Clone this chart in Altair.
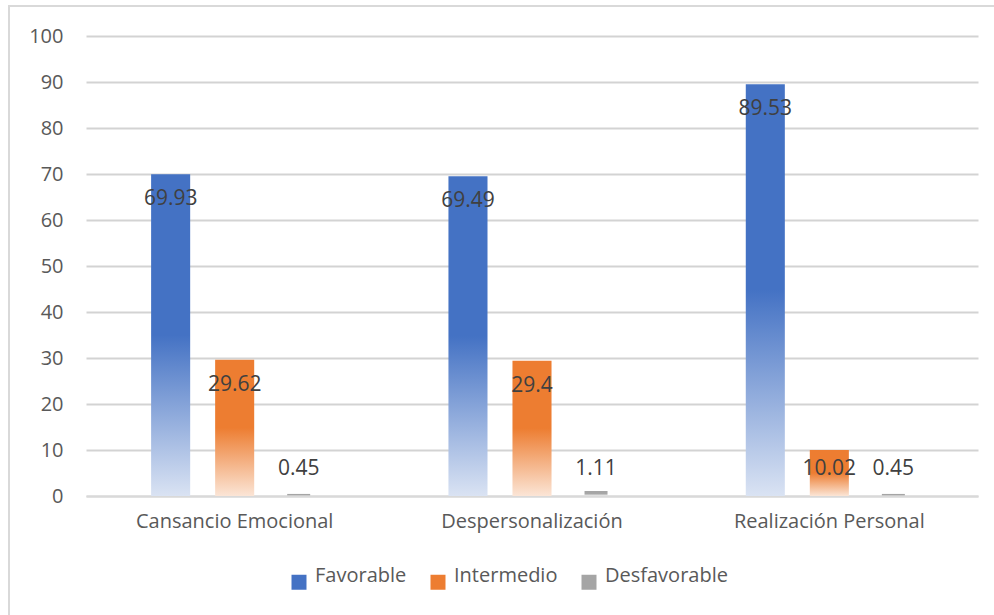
import altair as alt
import pandas as pd

categories = ["Cansancio Emocional", "Despersonalización", "Realización Personal"]
series = ["Favorable", "Intermedio", "Desfavorable"]
favorable = [69.93, 69.49, 89.53]
intermedio = [29.62, 29.4, 10.02]
desfavorable = [0.45, 1.11, 0.45]
solid_colors = ["#4472C4", "#ED7D31", "#A5A5A5"]
light_colors = ["#DAE3F3", "#FBE5D6", "#EDEDED"]
y_ticks = list(range(0, 101, 10))

rows = []
for s, vals in zip(series, [favorable, intermedio, desfavorable]):
    for c, v in zip(categories, vals):
        rows.append({"category": c, "series": s, "value": v,
                     "label": str(v), "anchor": max(v, 11.3)})
df = pd.DataFrame(rows)

FONT = "Open Sans"


def grad(top, bottom):
    return alt.Gradient(
        gradient="linear",
        stops=[alt.GradientStop(color=top, offset=0),
               alt.GradientStop(color=top, offset=0.5),
               alt.GradientStop(color=bottom, offset=1)],
        x1=0, x2=0, y1=0, y2=1,
    )


x_enc = alt.X("category:N", sort=categories, title=None,
              scale=alt.Scale(domain=categories, paddingInner=0.354, paddingOuter=0.177),
              axis=alt.Axis(labelFont=FONT, labelFontSize=20, labelColor="#595959",
                            labelAngle=0, ticks=False, tickSize=0, labelPadding=15,
                            labelLimit=0,
                            domainColor="#D9D9D9", domainWidth=2))
xo_enc = alt.XOffset("series:N", sort=series,
                     scale=alt.Scale(domain=series, paddingInner=0.39, paddingOuter=0.195))
y_scale = alt.Scale(domain=[0, 100], nice=False)
y_enc = alt.Y("value:Q", scale=y_scale, title=None,
              axis=alt.Axis(values=y_ticks, labelFont=FONT, labelFontSize=20,
                            labelColor="#595959", ticks=False, tickSize=0, labelPadding=23,
                            domain=False, grid=True, gridColor="#D3D3D3", gridWidth=2))

base = alt.Chart(df).encode(x=x_enc, xOffset=xo_enc)

layers = []
for i, s in enumerate(series):
    extra = {}
    if s == "Desfavorable":
        extra = {"width": 23, "xOffset": -8}
    layers.append(
        base.transform_filter(alt.datum.series == s)
        .mark_bar(fill=grad(solid_colors[i], light_colors[i]), **extra)
        .encode(y=y_enc)
    )

legend_layer = base.mark_bar().encode(
    y=alt.Y("zero:Q", scale=y_scale),
    color=alt.Color("series:N", sort=series,
                    scale=alt.Scale(domain=series, range=solid_colors),
                    legend=alt.Legend(orient="none", legendX=203, legendY=536,
                                      direction="horizontal", title=None,
                                      labelFont=FONT, labelFontSize=20, labelColor="#595959",
                                      symbolType="square", symbolSize=225,
                                      symbolStrokeWidth=0, labelOffset=6,
                                      columnPadding=21, padding=0,
                                      labelBaseline="alphabetic")),
).transform_calculate(zero="0")

text_layer = base.mark_text(font=FONT, fontSize=21, color="#404040", dy=25,
                            baseline="middle").encode(
    y=alt.Y("anchor:Q", scale=y_scale),
    text="label:N",
)

border = alt.Chart(pd.DataFrame({"a": [0]})).mark_rect(
    fill="transparent", stroke="#D9D9D9", strokeWidth=2
).encode(x=alt.value(-77), x2=alt.value(920), y=alt.value(-30), y2=alt.value(600))

chart = alt.layer(border, *layers, legend_layer, text_layer).properties(
    width=892, height=460,
    autosize=alt.AutoSizeParams(type="none"),
    padding={"left": 86, "top": 36, "right": 16, "bottom": 119},
    background="white",
).configure_view(stroke=None)

chart.save("out.html", embed_options={"renderer": "svg", "actions": False})
